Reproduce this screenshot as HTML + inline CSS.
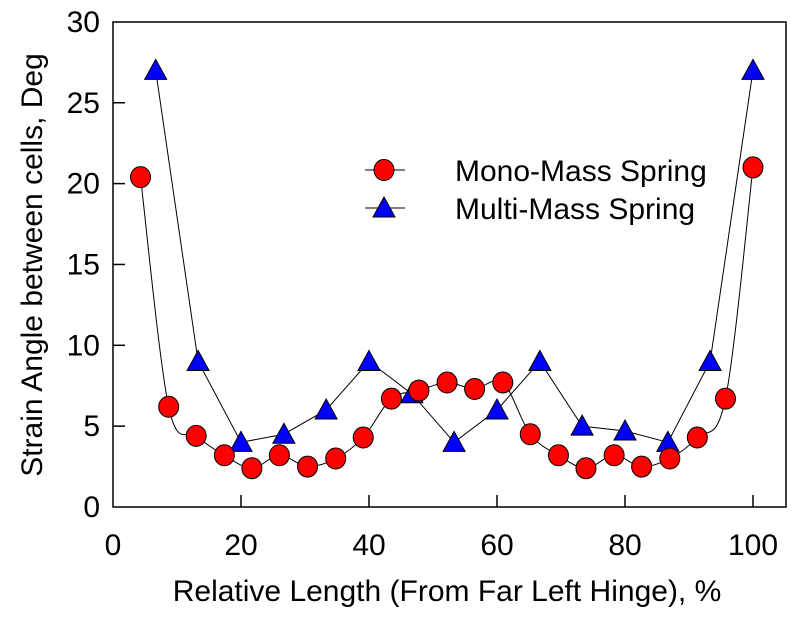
<!DOCTYPE html>
<html><head><style>body{margin:0;background:#fff}svg{display:block}text{font-family:"Liberation Sans",Arial,sans-serif;fill:#000}</style></head>
<body>
<svg id="s" width="802" height="623" xmlns="http://www.w3.org/2000/svg">
<rect x="113" y="22" width="673" height="485" fill="none" stroke="#000" stroke-width="1.5"/>
<g id="ax" stroke="#000" stroke-width="1.5"></g>
<g id="lab" font-size="30"></g>
<text x="447" y="601" font-size="30" text-anchor="middle">Relative Length (From Far Left Hinge), %</text>
<text transform="translate(42,265) rotate(-90)" font-size="30" text-anchor="middle">Strain Angle between cells, Deg</text>
<g id="data"></g>
<line x1="365" y1="170" x2="405" y2="170" stroke="#000" stroke-width="1"/>
<ellipse cx="384" cy="170" rx="10" ry="10.5" fill="#f00" stroke="#000"/>
<text x="455" y="181" font-size="30">Mono-Mass Spring</text>
<line x1="365" y1="208" x2="405" y2="208" stroke="#000" stroke-width="1"/>
<polygon points="384,197 395,217 373,217" fill="#00f" stroke="#000"/>
<text x="455" y="219" font-size="30">Multi-Mass Spring</text>
</svg>
<script>
const NS="http://www.w3.org/2000/svg";
const X=v=>113+v*6.4,Y=v=>507-v*16.17;
function el(p,t,a,txt){const e=document.createElementNS(NS,t);for(const k in a)e.setAttribute(k,a[k]);if(txt!==undefined)e.textContent=txt;document.getElementById(p).appendChild(e);}
for(let v=0;v<=30;v+=5){el("lab","text",{x:100,y:Y(v)+10,"text-anchor":"end"},v);if(v>0&&v<30)el("ax","line",{x1:113,x2:125,y1:Y(v),y2:Y(v)});}
for(let v=0;v<=100;v+=20){el("lab","text",{x:X(v),y:555,"text-anchor":"middle"},v);if(v>0)el("ax","line",{x1:X(v),x2:X(v),y1:507,y2:495});}
const mono=[[4.3,20.4],[8.7,6.2],[13,4.4],[17.4,3.2],[21.7,2.4],[26,3.2],[30.4,2.5],[34.8,3.0],[39.1,4.3],[43.5,6.7],[47.8,7.2],[52.2,7.7],[56.5,7.3],[60.9,7.7],[65.2,4.5],[69.6,3.2],[73.9,2.4],[78.3,3.2],[82.6,2.5],[87,3.0],[91.3,4.3],[95.7,6.7],[100,21]];
const multi=[[6.67,27],[13.3,9],[20,4],[26.7,4.5],[33.3,6],[40,9],[46.7,7],[53.3,4],[60,6],[66.7,9],[73.3,5],[80,4.7],[86.7,4],[93.3,9],[100,27]];
const mp=mono.map(p=>[X(p[0]),Y(p[1])]);
let d="M"+mp[0];
for(let i=0;i<mp.length-1;i++){const p0=mp[Math.max(0,i-1)],p1=mp[i],p2=mp[i+1],p3=mp[Math.min(mp.length-1,i+2)];
const c1=[p1[0]+(p2[0]-p0[0])/6,p1[1]+(p2[1]-p0[1])/6],c2=[p2[0]-(p3[0]-p1[0])/6,p2[1]-(p3[1]-p1[1])/6];
d+=" C"+c1+" "+c2+" "+p2;}
el("data","path",{d:d,fill:"none",stroke:"#000","stroke-width":1});
el("data","polyline",{points:multi.map(p=>X(p[0])+","+Y(p[1])).join(" "),fill:"none",stroke:"#000","stroke-width":1});
multi.forEach(p=>{const x=X(p[0]),y=Y(p[1]);el("data","polygon",{points:`${x},${y-11} ${x+11},${y+9} ${x-11},${y+9}`,fill:"#00f",stroke:"#000"});});
mp.forEach(p=>el("data","ellipse",{cx:p[0],cy:p[1],rx:10,ry:10.5,fill:"#f00",stroke:"#000"}));
</script>
</body></html>
